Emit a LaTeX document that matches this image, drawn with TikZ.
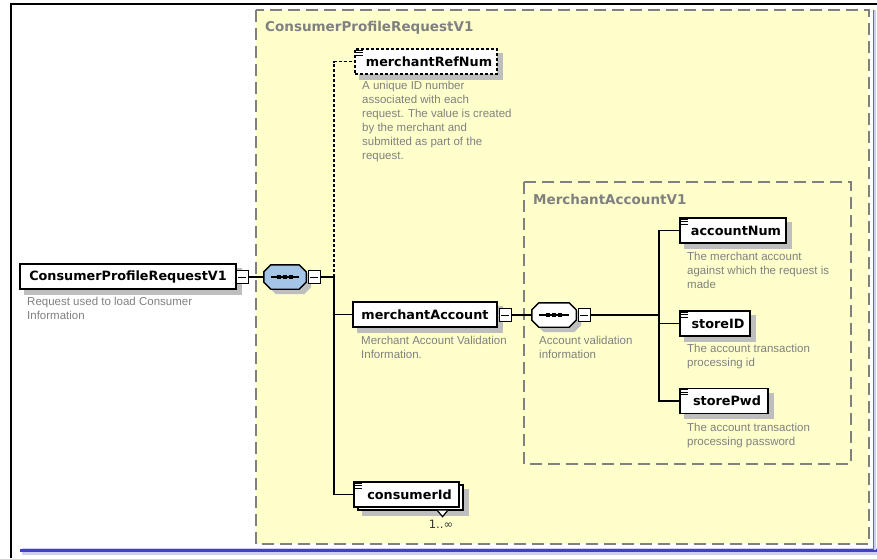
\documentclass[tikz,border=0pt]{standalone}
\usepackage{fontspec}
\setmainfont{DejaVu Sans}
\newfontfamily\descfont{Liberation Sans}
\usetikzlibrary{calc}
\pgfdeclarelayer{bglayer}
\pgfdeclarelayer{shadowlayer}
\pgfsetlayers{bglayer,shadowlayer,main}
\definecolor{yel}{RGB}{255,255,204}
\definecolor{shd}{RGB}{190,190,190}
\definecolor{desccol}{RGB}{128,128,128}
\definecolor{ttl}{RGB}{128,128,128}
\definecolor{seqblue}{RGB}{164,196,232}
\definecolor{frameblue}{RGB}{64,64,200}
\tikzset{
 elem/.style={draw=black, fill=white, line width=1.4pt, inner sep=0pt, minimum height=25pt,
   font=\fontsize{12.8}{14}\bfseries\selectfont},
 optelem/.style={elem, dash pattern=on 3pt off 2pt},
 minusbox/.style={draw=black, fill=white, line width=1pt, minimum width=12pt, minimum height=13pt, inner sep=0pt},
 desctext/.style={anchor=north west, align=left, inner sep=0pt,
   font=\descfont\fontsize{11.5}{14}\selectfont, text=desccol},
 boxtitle/.style={anchor=west, inner sep=0pt, font=\fontsize{13.5}{15}\bfseries\selectfont, text=ttl},
 conn/.style={line width=1.4pt, black},
 dashconn/.style={conn, dash pattern=on 3pt off 2pt},
 boxframe/.style={draw=gray, dash pattern=on 12pt off 6pt, line width=1.3pt},
 hidden/.style={inner sep=0pt, minimum height=24pt}
}
\newcommand\shadowof[1]{%
  \begin{pgfonlayer}{shadowlayer}
  \fill[shd] ($(#1.north west)+(5,5)$) rectangle ($(#1.south east)+(5,5)$);
  \end{pgfonlayer}}
\newcommand\minusat[2]{%
  \node[minusbox] (#1) at (#2) {};
  \draw[line width=1pt] ($(#1.west)+(2.5,0)$) -- ($(#1.east)+(-2.5,0)$);}
% octagon path of node #1, shifted by #2
\newcommand\octpath[2]{($(#1.north west)+(7,0)+(#2)$) -- ($(#1.north east)+(-7,0)+(#2)$) -- ($(#1.north east)+(0,7)+(#2)$) -- ($(#1.south east)+(0,-7)+(#2)$) -- ($(#1.south east)+(-7,0)+(#2)$) -- ($(#1.south west)+(7,0)+(#2)$) -- ($(#1.south west)+(0,-7)+(#2)$) -- ($(#1.north west)+(0,7)+(#2)$) -- cycle}
\newcommand\seqat[4]{%
  \node[hidden, minimum width=#3] (#1) at (#2) {};
  \begin{pgfonlayer}{shadowlayer}\fill[shd] \octpath{#1}{5,5};\end{pgfonlayer}
  \draw[fill=#4, line width=1.4pt] \octpath{#1}{0,0};
  \draw[line width=1.4pt] ($(#1.west)+(7,0)$) -- ($(#1.east)+(-7,0)$);
  \foreach \dx in {-6,0,6} {\fill ($(#1.center)+(\dx,0)$) +(-2.2,-2) rectangle +(2.2,2);}}
\newcommand\iconat[1]{%
  \foreach \dy in {2,4.3,6.6} {\draw[line width=0.8pt] ($(#1.north west)+(2,\dy)$) -- ++(7,0);}}
\begin{document}
\begin{tikzpicture}[x=1pt,y=-1pt]
\useasboundingbox (0,0) rectangle (877,558);
\begin{pgfonlayer}{bglayer}
% outer frame
\draw[line width=1.6pt] (11,558) -- (11,4) -- (877,4);
\draw[frameblue!25, line width=7pt] (22,551) -- (877,551);
\draw[frameblue, line width=3pt] (20,550) -- (877,550);
\draw[frameblue!25, line width=3pt] (874,10) -- (874,550);
\draw[frameblue!80, line width=1.2pt] (873.5,10) -- (873.5,550);
% group boxes
\filldraw[fill=yel, boxframe] (256,10) rectangle (869,544);
\draw[boxframe] (524,182) rectangle (851,464);
\end{pgfonlayer}
\node[boxtitle] (t1) at (265,28) {ConsumerProfileRequestV1};
\node[boxtitle] (t2) at (533,199) {MerchantAccountV1};

% root element
\node[elem, minimum width=216pt] (root) at (128,276.5) {ConsumerProfileRequestV1};
\shadowof{root}
\minusat{rootm}{242,277}
\node[desctext] (rootd) at (27,297) {Request used to load Consumer\\Information};

% sequence 1
\seqat{seqa}{285,277}{42pt}{seqblue}
\minusat{seqam}{314,277}
\draw[conn] (rootm.east) -- (seqa.west);
\draw[conn] (seqam.east) -- (334,277) coordinate (ja);

% merchantRefNum
\node[optelem, minimum width=142pt] (mref) at (426,61.5) {\hspace*{6pt}merchantRefNum};
\shadowof{mref}
\iconat{mref}
\node[desctext] (mrefd) at (362,81) {A unique ID number\\associated with each\\request. The value is created\\by the merchant and\\submitted as part of the\\request.};

% merchantAccount
\node[elem, minimum width=144pt] (macc) at (425,314.5) {merchantAccount};
\shadowof{macc}
\minusat{maccm}{505,315}
\node[desctext] (maccd) at (361,336) {Merchant Account Validation\\Information.};

% consumerId (stacked)
\node[elem, minimum width=105pt] (cidb) at (410.5,497.5) {};
\shadowof{cidb}
\draw[line width=1.2pt, fill=white] ($(cidb.south)+(37,0)$) -- ++(-5,6) -- ++(-5,-6);
\node[elem, minimum width=105pt] (cid) at (406.5,494.5) {\hspace*{6pt}consumerId};
\iconat{cid}
\node[inner sep=0pt, font=\fontsize{11.5}{12}\selectfont, text=black!80] (cidm) at (441,524) {1..∞};

% connectors from sequence 1
\draw[dashconn] (ja) |- (mref.west);
\draw[conn] (ja) |- (macc.west);
\draw[conn] (ja) |- (cid.west);

% sequence 2
\seqat{seqb}{554,315}{44pt}{white}
\minusat{seqbm}{584,315}
\draw[conn] (maccm.east) -- (seqb.west);
\draw[conn] (seqbm.east) -- (659,315) coordinate (jb);
\node[desctext] (seqbd) at (539,336) {Account validation\\information};

% children of MerchantAccountV1
\node[elem, minimum width=106pt] (anum) at (733,230.5) {\hspace*{6pt}accountNum};
\shadowof{anum}
\iconat{anum}
\node[desctext] (anumd) at (687,252) {The merchant account\\against which the request is\\made};
\node[elem, minimum width=70pt] (sid) at (715,323.5) {\hspace*{6pt}storeID};
\shadowof{sid}
\iconat{sid}
\node[desctext] (sidd) at (687,344) {The account transaction\\processing id};
\node[elem, minimum width=88pt] (spw) at (724,401) {\hspace*{6pt}storePwd};
\shadowof{spw}
\iconat{spw}
\node[desctext] (spwd) at (687,423) {The account transaction\\processing password};

\draw[conn] (jb) |- (anum.west);
\draw[conn] (jb) |- (sid.west);
\draw[conn] (jb) |- (spw.west);
\end{tikzpicture}
\end{document}
